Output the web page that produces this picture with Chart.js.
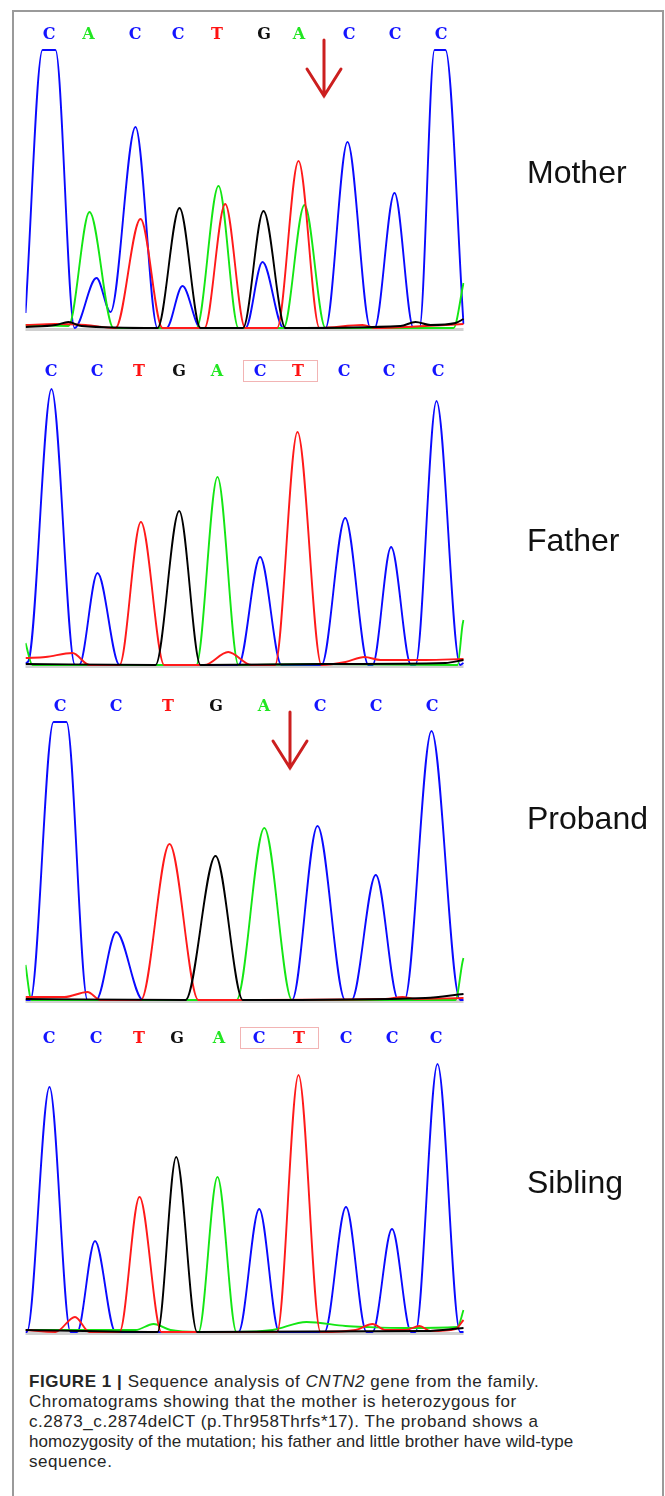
<!DOCTYPE html>
<html>
<head>
<meta charset="utf-8">
<script src="https://cdn.jsdelivr.net/npm/chart.js@4.4.1/dist/chart.umd.min.js"></script>
<style>
  html, body { margin: 0; padding: 0; background: #fff; }
  body { width: 665px; height: 1496px; position: relative; overflow: hidden; }
  #frame { position: absolute; left: 12px; top: 10px; width: 648px; height: 1500px;
           border: 2px solid #9a9a9a; border-bottom: none; }
  canvas { position: absolute; left: 0; }
  .who { position: absolute; left: 527px; font: 32px "Liberation Sans", Arial, sans-serif;
         line-height: 31px; color: #111; white-space: nowrap; }
  #caption { position: absolute; left: 29px; top: 1372px; width: 630px;
             font: 17px "Liberation Sans", Arial, sans-serif; line-height: 20px; color: #262626; white-space: nowrap; }
  #caption div { letter-spacing: 0.55px; }
  #caption div.tight { letter-spacing: 0.05px; }
</style>
</head>
<body>
<div id="frame"></div>
<canvas id="c-mother" width="665" height="316" style="top:20px"></canvas>
<canvas id="c-father" width="665" height="316" style="top:357px"></canvas>
<canvas id="c-proband" width="665" height="316" style="top:692px"></canvas>
<canvas id="c-sibling" width="665" height="316" style="top:1024px"></canvas>
<div class="who" style="top:157px">Mother</div>
<div class="who" style="top:525px">Father</div>
<div class="who" style="top:803px">Proband</div>
<div class="who" style="top:1167px">Sibling</div>
<div id="caption">
  <div><b>FIGURE 1 |</b> Sequence analysis of <i>CNTN2</i> gene from the family.</div>
  <div>Chromatograms showing that the mother is heterozygous for</div>
  <div>c.2873_c.2874delCT (p.Thr958Thrfs*17). The proband shows a</div>
  <div class="tight">homozygosity of the mutation; his father and little brother have wild-type</div>
  <div>sequence.</div>
</div>

<script>
// base calls (letters above each trace) and their scan positions
const motherBases = ['C', 'A', 'C', 'C', 'T', 'G', 'A', 'C', 'C', 'C'];
const motherPos = [23.5, 63, 109.5, 152.5, 191.5, 238.5, 273.5, 323.5, 369.5, 415.5];
const fatherBases = ['C', 'C', 'T', 'G', 'A', 'C', 'T', 'C', 'C', 'C'];
const fatherPos = [25.5, 71.5, 113.5, 153.5, 191.5, 234.5, 272.5, 318.5, 363.5, 412.5];
const probandBases = ['C', 'C', 'T', 'G', 'A', 'C', 'C', 'C'];
const probandPos = [34.5, 90.5, 142.5, 190.5, 238.5, 294.5, 350.5, 406.5];
const siblingBases = ['C', 'C', 'T', 'G', 'A', 'C', 'T', 'C', 'C', 'C'];
const siblingPos = [23.5, 70.5, 113.5, 151.5, 193.5, 233.5, 273.5, 320.5, 366.5, 410.5];

// traces: [scan, signal]
const motherC = [[0, 15], [17, 278], [30, 278], [49, 0], [71, 50], [85, 16], [110, 201], [132, 0], [141, 0], [157, 42], [175, 0], [220, 0], [237, 66], [258, 0], [300, 0], [322, 186], [345, 0], [349, 0], [369, 135], [388, 0], [394, 0], [409, 278], [420, 278], [438, 4]];
const motherA = [[0, 3], [43, 2], [64, 116], [88, 0], [171, 0], [193, 142], [213, 0], [258, 0], [279, 123], [300, 0], [428, 0], [438, 45]];
const motherT = [[0, 3], [30, 4], [60, 3], [90, 0], [115, 109], [137, 0], [179, 0], [199.7, 124], [219.7, 0], [251.6, 0], [273, 167], [294, 0], [337, 3], [350, 0], [400, 2], [438, 4]];
const motherG = [[0, 1], [30, 3], [43, 6], [56, 2], [132, 0], [154, 120], [175, 0], [217.5, 0], [238, 117], [260, 0], [375, 2], [390, 6], [405, 3], [430, 5], [438, 9]];

const fatherC = [[0, 2], [3, 4], [26, 276], [49.5, 0], [53.7, 0], [72, 92], [94, 0], [213, 0], [234.6, 108], [256, 0], [296, 0], [319.7, 147], [343, 0], [347, 0], [365.6, 118], [385.6, 0], [390, 0], [411, 264], [434.6, 0], [438, 2]];
const fatherA = [[0, 22], [7, 0], [170.7, 0], [192, 188], [213, 0], [300, 1], [432, 0], [437, 40], [438, 45]];
const fatherT = [[0, 7], [20, 8], [47, 12], [64, 0], [94, 0], [115.4, 143], [138.8, 0], [179, 0], [202.7, 13], [226, 0], [249.5, 0], [272, 233], [296, 0], [320, 3], [339, 8], [355, 5], [400, 5], [438, 6]];
const fatherG = [[0, 1], [130, 0], [153.7, 154], [175, 0], [300, 1], [420, 2], [438, 5]];

const probandC = [[0, 0], [4.8, 0], [28, 278], [41, 278], [62, 0], [70.7, 0], [90.7, 68], [117.5, 0], [266.5, 0], [292, 174], [319.7, 0], [326, 0], [350.3, 125], [372.9, 0], [379, 0], [406, 269], [434.6, 0], [438, 0]];
const probandA = [[0, 35], [6, 0], [211, 0], [238.8, 172], [266.5, 0], [430, 0], [437, 38], [438, 42]];
const probandT = [[0, 3], [39, 3], [62, 8], [75, 0], [115.4, 0], [144, 156], [172.9, 0], [360, 1], [377, 3], [390, 1], [438, 2]];
const probandG = [[0, 1], [160, 0], [190, 144], [217.5, 0], [400, 2], [438, 6]];

const siblingC = [[0, 0], [1.4, 0], [24, 245], [45, 0], [51.6, 0], [69.5, 91], [90, 0], [213, 0], [233.7, 123], [253.7, 0], [299, 0], [320.5, 125], [341, 0], [347, 0], [366.5, 103], [385.6, 0], [390, 0], [412, 268], [434.6, 0], [438, 0]];
const siblingA = [[0, 2], [110, 2], [128, 8], [145, 2], [173, 0], [192, 155], [211, 0], [247, 2], [281, 10], [320, 6], [341, 5], [380, 4], [432, 5], [438, 22]];
const siblingT = [[0, 2], [30, 0], [49.5, 15], [64, 0], [94, 0], [114, 135], [136, 0], [251.6, 0], [273, 257], [295, 0], [330, 2], [347, 8], [360, 2], [380, 2], [394, 6], [405, 1], [430, 3], [438, 12]];
const siblingG = [[0, 2], [132, 0], [150.7, 175], [171.6, 0], [400, 1], [438, 4]];

// mutation markers
const motherArrow = 298.5;
const probandArrow = 264.5;
const fatherBox = [217.5, 291.5];
const siblingBox = [214.5, 292.5];

const baseColors = { A: '#22e622', C: '#1414ff', G: '#111111', T: '#ff1212' };

const chromPlugin = {
    id: 'chrom',
    beforeDatasetsDraw(chart) {
        const { ctx, chartArea, scales } = chart;
        const y0 = scales.y.getPixelForValue(0);
        ctx.save();
        ctx.strokeStyle = '#d0d0d0';
        ctx.lineWidth = 3;
        ctx.beginPath();
        ctx.moveTo(chartArea.left, y0 + 1.5);
        ctx.lineTo(chartArea.right, y0 + 1.5);
        ctx.stroke();
        ctx.restore();
    },
    afterDraw(chart, args, opts) {
        const { ctx, chartArea, scales } = chart;
        const x = scales.x;
        const ly = chartArea.top - 16;
        ctx.save();
        // box round the deleted bases
        if (opts.box) {
            const x1 = x.getPixelForValue(opts.box[0]);
            const x2 = x.getPixelForValue(opts.box[1]);
            ctx.strokeStyle = '#f2b4b4';
            ctx.lineWidth = 1;
            ctx.strokeRect(x1 + 0.5, ly - 10.5, x2 - x1, 21);
        }
        // base letters
        ctx.font = 'bold 16px "DejaVu Serif", serif';
        ctx.textAlign = 'center';
        ctx.textBaseline = 'middle';
        opts.bases.forEach((b, i) => {
            ctx.fillStyle = baseColors[b];
            ctx.fillText(b, x.getPixelForValue(opts.pos[i]), ly + 1);
        });
        // red arrow
        if (opts.arrow !== undefined) {
            const ax = x.getPixelForValue(opts.arrow);
            const top = chartArea.top - 10;
            const tip = chartArea.top + 46;
            ctx.strokeStyle = '#cc1f1f';
            ctx.lineWidth = 3;
            ctx.lineCap = 'round';
            ctx.beginPath();
            ctx.moveTo(ax, top);
            ctx.lineTo(ax, tip);
            ctx.moveTo(ax - 17, tip - 27);
            ctx.lineTo(ax, tip);
            ctx.lineTo(ax + 17, tip - 27);
            ctx.stroke();
        }
        ctx.restore();
    }
};

function trace(label, data, color) {
    return {
        label: label,
        data: data,
        borderColor: color,
        borderWidth: 1.9,
        pointRadius: 0,
        fill: false,
        cubicInterpolationMode: 'monotone',
        clip: { left: 0, right: 1, top: 2, bottom: 3 }
    };
}

function drawPanel(id, g, a, t, c, extra) {
    const el = document.getElementById(id);
    new Chart(el.getContext('2d'), {
        type: 'line',
        data: {
            datasets: [
                trace('G', g, '#000000'),
                trace('T', t, '#ff1a1a'),
                trace('A', a, '#14e614'),
                trace('C', c, '#0a0aff')
            ]
        },
        options: {
            responsive: false,
            animation: false,
            layout: { padding: { left: 25.5, right: 201.5, top: 30, bottom: 8 } },
            scales: {
                x: { type: 'linear', min: 0, max: 438, display: false },
                y: { min: 0, max: 278, display: false }
            },
            plugins: {
                legend: { display: false },
                tooltip: { enabled: false },
                chrom: extra
            }
        },
        plugins: [chromPlugin]
    });
}

window.onload = function () {
    drawPanel('c-mother', motherG, motherA, motherT, motherC,
        { bases: motherBases, pos: motherPos, arrow: motherArrow });
    drawPanel('c-father', fatherG, fatherA, fatherT, fatherC,
        { bases: fatherBases, pos: fatherPos, box: fatherBox });
    drawPanel('c-proband', probandG, probandA, probandT, probandC,
        { bases: probandBases, pos: probandPos, arrow: probandArrow });
    drawPanel('c-sibling', siblingG, siblingA, siblingT, siblingC,
        { bases: siblingBases, pos: siblingPos, box: siblingBox });
};
</script>
</body>
</html>
